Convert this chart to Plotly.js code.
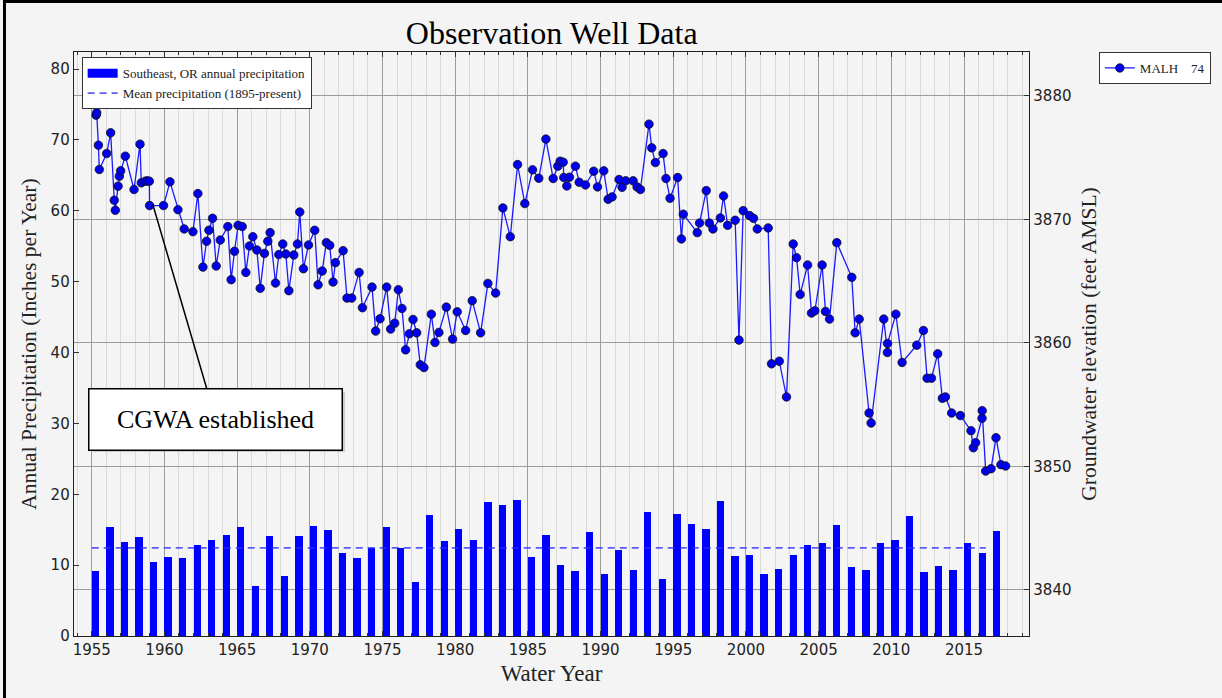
<!DOCTYPE html>
<html>
<head>
<meta charset="utf-8">
<script src="https://cdn.plot.ly/plotly-3.0.1.min.js"></script>
<style>
  html, body { margin:0; padding:0; background:#f4f4f4; }
  #wrap { position:relative; width:1222px; height:698px; overflow:hidden; background:#f4f4f4; }
  #chart { position:absolute; left:0; top:0; width:1222px; height:698px; }
  #frame { position:absolute; left:3px; top:0; width:1216px; height:695px;
           border-left:3px solid #000; border-top:3px solid #000;
           border-right:1px solid #d0d0d0; border-bottom:1px solid #d0d0d0; pointer-events:none; }
</style>
</head>
<body>
<div id="wrap"><div id="chart"></div><div id="frame"></div></div>
<script>
// ---- Annual precipitation (inches), water years 1955-2017 ----
const precipYears = [1955,1956,1957,1958,1959,1960,1961,1962,1963,1964,1965,1966,1967,1968,1969,1970,1971,1972,1973,1974,
  1975,1976,1977,1978,1979,1980,1981,1982,1983,1984,1985,1986,1987,1988,1989,1990,1991,1992,1993,1994,
  1995,1996,1997,1998,1999,2000,2001,2002,2003,2004,2005,2006,2007,2008,2009,2010,2011,2012,2013,2014,
  2015,2016,2017];
const precipValues = [9.14,15.33,13.2,13.9,10.38,11.1,10.95,12.9,13.57,14.29,15.33,7.05,14.1,8.48,14.1,15.52,14.95,11.67,10.95,12.43,
  15.33,12.48,7.62,17.1,13.38,15.14,13.57,18.86,18.52,19.19,11.1,14.29,10.05,9.19,14.62,8.81,12.19,9.38,17.43,8.1,
  17.24,15.86,15.14,19.05,11.29,11.48,8.81,9.52,11.48,12.9,13.1,15.71,9.71,9.33,13.1,13.57,16.95,9.0,9.86,9.33,
  13.1,11.67,14.81];

// ---- Mean precipitation (1895-present) ----
const meanYears = [1955, 2016.5];
const meanValue = 12.43;

// ---- Well MALH 74 groundwater elevation (feet AMSL) ----
const wellYears = [1955.30,1955.34,1955.46,1955.52,1956.03,1956.30,1956.55,1956.62,1956.81,1956.90,1956.99,1957.31,1957.91,1958.32,1958.41,
  1958.68,1958.82,1958.96,1958.98,1959.94,1960.38,1960.93,1961.36,1961.96,1962.30,1962.65,1962.90,1963.06,1963.31,1963.56,
  1963.84,1964.36,1964.59,1964.82,1965.07,1965.35,1965.60,1965.85,1966.08,1966.36,1966.59,1966.88,1967.11,1967.27,1967.64,
  1967.87,1968.14,1968.35,1968.56,1968.90,1969.15,1969.31,1969.56,1969.91,1970.34,1970.57,1970.85,1971.14,1971.37,1971.60,
  1971.76,1972.29,1972.56,1972.88,1973.39,1973.62,1974.28,1974.53,1974.83,1975.29,1975.56,1975.84,1976.09,1976.34,1976.59,
  1976.85,1977.10,1977.35,1977.60,1977.85,1978.36,1978.61,1978.88,1979.39,1979.82,1980.14,1980.72,1981.17,1981.75,1982.25,
  1982.78,1983.28,1983.79,1984.29,1984.79,1985.32,1985.75,1986.24,1986.74,1987.06,1987.22,1987.43,1987.47,1987.68,1987.86,
  1988.27,1988.53,1988.96,1989.53,1989.79,1990.22,1990.52,1990.79,1991.27,1991.48,1991.73,1992.24,1992.51,1992.74,1993.33,
  1993.52,1993.77,1994.30,1994.50,1994.78,1995.30,1995.56,1995.69,1996.65,1996.81,1997.27,1997.48,1997.73,1998.24,1998.46,
  1998.74,1999.26,1999.52,1999.81,2000.25,2000.52,2000.78,2001.53,2001.76,2002.29,2002.79,2003.25,2003.48,2003.73,2004.24,
  2004.51,2004.74,2005.24,2005.47,2005.75,2006.25,2007.28,2007.51,2007.79,2008.47,2008.61,2009.48,2009.73,2009.74,2010.31,
  2010.74,2011.75,2012.21,2012.46,2012.76,2013.19,2013.51,2013.72,2014.15,2014.75,2015.48,2015.64,2015.80,2016.24,2016.25,
  2016.49,2016.86,2017.20,2017.54,2017.86];
const wellElev = [3878.43,3878.62,3876.00,3874.03,3875.32,3877.00,3871.54,3870.73,3872.68,3873.49,3873.92,3875.11,3872.41,3876.08,3872.95,
  3873.08,3873.11,3873.08,3871.11,3871.11,3873.03,3870.78,3869.22,3869.00,3872.08,3866.13,3868.22,3869.11,3870.08,3866.22,
  3868.32,3869.41,3865.11,3867.41,3869.51,3869.41,3865.70,3867.84,3868.59,3867.51,3864.41,3867.24,3868.22,3868.92,3864.84,
  3867.14,3868.00,3867.19,3864.22,3867.11,3868.00,3870.59,3866.00,3867.92,3869.11,3864.70,3865.81,3868.11,3867.89,3864.92,
  3866.49,3867.46,3863.62,3863.62,3865.70,3862.84,3864.51,3860.95,3861.95,3864.51,3861.11,3861.59,3864.30,3862.78,3859.43,
  3860.73,3861.89,3860.81,3858.22,3858.00,3862.32,3860.03,3860.84,3862.89,3860.30,3862.51,3861.00,3863.41,3860.81,3864.81,
  3864.03,3870.92,3868.59,3874.43,3871.27,3874.00,3873.32,3876.49,3873.30,3874.30,3874.70,3874.62,3873.38,3872.70,3873.41,
  3874.30,3873.00,3872.78,3873.89,3872.62,3873.92,3871.62,3871.81,3873.22,3872.59,3873.11,3873.11,3872.62,3872.41,3877.70,
  3875.78,3874.59,3875.32,3873.30,3871.70,3873.38,3868.41,3870.41,3868.92,3869.70,3872.32,3869.70,3869.22,3870.11,3871.89,
  3869.51,3869.92,3860.22,3870.70,3870.30,3870.08,3869.22,3869.30,3858.30,3858.51,3855.62,3868.00,3866.89,3863.92,3866.30,
  3862.41,3862.59,3866.30,3862.54,3861.92,3868.11,3865.30,3860.81,3861.92,3854.32,3853.51,3861.92,3859.22,3859.95,3862.32,
  3858.41,3859.81,3861.00,3857.14,3857.14,3859.11,3855.51,3855.62,3854.32,3854.11,3852.89,3851.51,3851.92,3853.89,3854.51,
  3849.62,3849.81,3852.32,3850.14,3850.03];

// ---- Text ----
const chartTitle = 'Observation Well Data';
const xTitle = 'Water Year';
const yLeftTitle = 'Annual Precipitation (Inches per Year)';
const yRightTitle = 'Groundwater elevation (feet AMSL)';
const barName = 'Southeast, OR annual precipitation';
const meanName = 'Mean precipitation (1895-present)';
const wellName = 'MALH    74';
const noteText = 'CGWA established';
const noteYear = 1959.2, noteElev = 3871.2;

const serif = 'Liberation Serif, Times New Roman, serif';
const sans = 'DejaVu Sans, sans-serif';
const tickFont = {family: sans, size: 15, color: '#222'};
const barBlue = '#0000ff';

const traces = [
  {type:'bar', x: precipYears, y: precipValues, name: barName, width: 0.5, offset: 0,
   marker:{color: barBlue, line:{width:0}}, yaxis:'y', showlegend:false},
  // legend key for the bars (wide filled rectangle, as in the original legend)
  {type:'scatter', mode:'lines', x:[null], y:[null], name: barName, yaxis:'y', legend:'legend',
   line:{color: barBlue, width:9}},
  {type:'scatter', mode:'lines', x: meanYears, y: meanYears.map(() => meanValue), name: meanName,
   line:{color:'rgba(40,40,255,0.75)', width:1.6, dash:'7px,5px'}, yaxis:'y', legend:'legend'},
  {type:'scatter', mode:'lines+markers', x: wellYears, y: wellElev, name: wellName, yaxis:'y2', legend:'legend2',
   line:{color:'#1a1aff', width:1.3},
   marker:{color:'#0000ee', size:8.5, line:{color:'#111', width:0.8}}}
];

const layout = {
  width:1222, height:698, autosize:false,
  paper_bgcolor:'#f4f4f4', plot_bgcolor:'#f4f4f4',
  margin:{l:74, r:192, t:52, b:62, pad:0},
  title:{text: chartTitle, font:{family: serif, size:32, color:'#000'}, x:0.4515, xanchor:'center', y:0.953, yanchor:'middle', xref:'container', yref:'container'},
  showlegend:true,
  bargap:0,
  xaxis:{range:[1953.78, 2019.47], tick0:1955, dtick:5, ticks:'inside', ticklen:5, tickcolor:'#333',
    showline:true, linecolor:'#222', linewidth:1.3, mirror:'ticks', zeroline:false,
    showgrid:true, gridcolor:'#9c9c9c', gridwidth:1,
    minor:{tick0:1955, dtick:1, ticks:'inside', ticklen:3, tickcolor:'#333', showgrid:true, gridcolor:'#dadada', gridwidth:1},
    tickfont: tickFont,
    title:{text:xTitle, font:{family:serif, size:23, color:'#222'}, standoff:6}},
  yaxis:{range:[0, 82.4], tick0:0, dtick:10, ticks:'inside', ticklen:5, tickcolor:'#333',
    showline:true, linecolor:'#222', linewidth:1.3, zeroline:false, showgrid:false,
    tickfont: tickFont,
    title:{text:yLeftTitle, font:{family:serif, size:21.5, color:'#222'}, standoff:8}},
  yaxis2:{overlaying:'y', side:'right', range:[3836.27, 3883.54], tick0:3840, dtick:10,
    ticks:'inside', ticklen:5, tickcolor:'#333',
    showline:true, linecolor:'#222', linewidth:1.3, zeroline:false,
    showgrid:true, gridcolor:'#9c9c9c', gridwidth:1,
    tickfont: tickFont,
    title:{text:yRightTitle, font:{family:serif, size:21.5, color:'#222'}, standoff:10}},
  legend:{x:0.008, y:0.991, xanchor:'left', yanchor:'top', bgcolor:'#ffffff', bordercolor:'#333', borderwidth:1,
    font:{family:serif, size:13, color:'#222'}, tracegroupgap:0, itemwidth:30},
  legend2:{x:1.072, y:1.0, xanchor:'left', yanchor:'top', bgcolor:'#ffffff', bordercolor:'#333', borderwidth:1,
    font:{family:serif, size:13, color:'#222'}, itemwidth:30},
  annotations:[
    {x:noteYear, y:noteElev, xref:'x', yref:'y2', text:' ', showarrow:true, arrowcolor:'rgba(0,0,0,0)', arrowwidth:0.1,
     ax:66, ay:218, width:250, height:58, bgcolor:'rgba(0,0,0,0.16)', borderwidth:0, borderpad:1},
    {x:noteYear, y:noteElev, xref:'x', yref:'y2', text:noteText, showarrow:true, arrowhead:0, arrowwidth:1.5,
     arrowcolor:'#000', ax:63, ay:215, width:250, height:58, bgcolor:'#ffffff', bordercolor:'#000', borderwidth:1.5,
     borderpad:1, font:{family:serif, size:26, color:'#000'}}
  ]
};

Plotly.newPlot('chart', traces, layout, {displayModeBar:false, staticPlot:true});
</script>
</body>
</html>
